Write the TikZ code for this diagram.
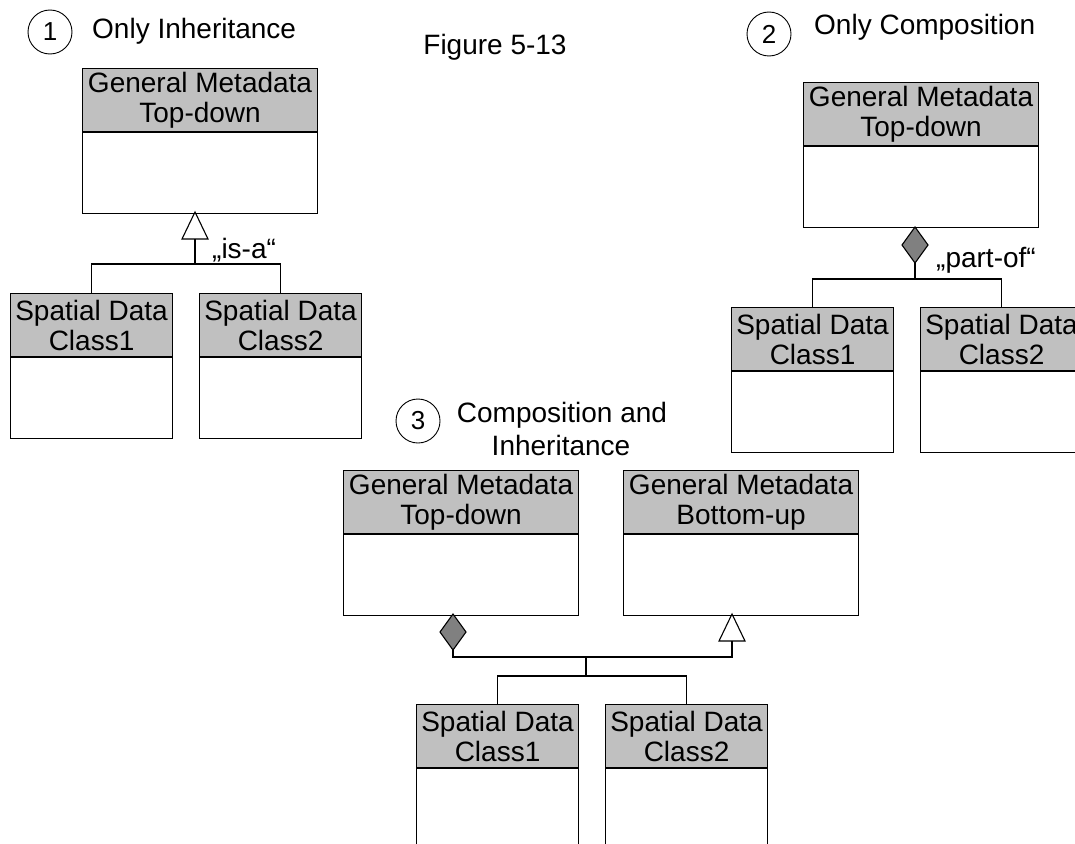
\documentclass[tikz,border=0pt]{standalone}
\usepackage{fontspec}
\setmainfont{Liberation Sans}
\usetikzlibrary{calc}
\definecolor{hdrgray}{HTML}{C0C0C0}
\definecolor{diagray}{HTML}{808080}
\begin{document}
\begin{tikzpicture}[x=1pt,y=-1pt,
  lbl/.style={font=\fontsize{28}{30}\selectfont, inner sep=0pt},
  hdr/.style={draw, fill=hdrgray, line width=1.1pt, minimum height=63pt, inner sep=0pt, align=center, anchor=north west, font=\fontsize{28}{30}\selectfont},
  bdy/.style={draw, fill=white, line width=1.1pt, minimum height=81pt, inner sep=0pt, anchor=north},
  numc/.style={draw, circle, line width=0.9pt, minimum size=44pt, inner sep=0pt, font=\fontsize{26}{26}\selectfont},
  conn/.style={line width=1.1pt},
  gen/.style={conn, fill=white, line join=miter},
  comp/.style={conn, fill=diagray, line join=miter},
]
\useasboundingbox (0,0) rectangle (1075,843);
\clip (0,0) rectangle (1075,843);

% ---------- Section 1 ----------
\node[numc] (n1) at (50,32) {1};
\node[lbl, anchor=base west] (title1) at (92,38) {Only Inheritance};
\node[lbl, anchor=base] (fig) at (495,55) {Figure 5-13};

\node[hdr, minimum width=235pt] (a1h) at (82,68) {General Metadata\\Top-down};
\node[bdy, minimum width=235pt] (a1) at (a1h.south) {};
\node[hdr, minimum width=162pt] (b1h) at (10,293) {Spatial Data\\Class1};
\node[bdy, minimum width=162pt] (b1) at (b1h.south) {};
\node[hdr, minimum width=162pt] (c1h) at (199,293) {Spatial Data\\Class2};
\node[bdy, minimum width=162pt] (c1) at (c1h.south) {};

\coordinate (tri1) at (195,212);
\coordinate (j1) at (195,264);
\draw[gen] (tri1) -- ++(-13,27) -- ++(26,0) -- cycle;
\draw[conn] ($(tri1)+(0,27)$) -- (j1);
\draw[conn] (b1h.north) |- (j1) -| (c1h.north);
\node[lbl, anchor=base west] (isa) at (212,258) {„is-a“};

% ---------- Section 2 ----------
\node[numc] (n2) at (769,34) {2};
\node[lbl, anchor=base west] (title2) at (814,35) {Only Composition};

\node[hdr, minimum width=235pt] (a2h) at (803,82) {General Metadata\\Top-down};
\node[bdy, minimum width=235pt] (a2) at (a2h.south) {};
\node[hdr, minimum width=162pt] (b2h) at (731,307) {Spatial Data\\Class1};
\node[bdy, minimum width=162pt] (b2) at (b2h.south) {};
\node[hdr, minimum width=162pt] (c2h) at (920,307) {Spatial Data\\Class2};
\node[bdy, minimum width=162pt] (c2) at (c2h.south) {};

\coordinate (dia2) at (915,227);
\coordinate (j2) at (915,279);
\draw[comp] (dia2) -- ++(-13,18) -- ++(13,18) -- ++(13,-18) -- cycle;
\draw[conn] ($(dia2)+(0,36)$) -- (j2);
\draw[conn] (b2h.north) |- (j2) -| (c2h.north);
\node[lbl, anchor=base west] (partof) at (936,267) {„part-of“};

% ---------- Section 3 ----------
\node[numc] (n3) at (418,421) {3};
\node[lbl, anchor=base] (title3a) at (562,422) {Composition and};
\node[lbl, anchor=base] (title3b) at (561,455) {Inheritance};

\node[hdr, minimum width=235pt] (a3h) at (343,470) {General Metadata\\Top-down};
\node[bdy, minimum width=235pt] (a3) at (a3h.south) {};
\node[hdr, minimum width=235pt] (d3h) at (623,470) {General Metadata\\Bottom-up};
\node[bdy, minimum width=235pt] (d3) at (d3h.south) {};
\node[hdr, minimum width=162pt] (b3h) at (416,704) {Spatial Data\\Class1};
\node[bdy, minimum width=162pt] (b3) at (b3h.south) {};
\node[hdr, minimum width=162pt] (c3h) at (605,704) {Spatial Data\\Class2};
\node[bdy, minimum width=162pt] (c3) at (c3h.south) {};

\coordinate (dia3) at (453,614);
\coordinate (tri3) at (732,614);
\coordinate (j3) at (586,657);
\coordinate (k3) at (586,676);
\draw[comp] (dia3) -- ++(-13,18) -- ++(13,18) -- ++(13,-18) -- cycle;
\draw[gen] (tri3) -- ++(-13,27) -- ++(26,0) -- cycle;
\draw[conn] ($(dia3)+(0,36)$) |- (j3) -| ($(tri3)+(0,27)$);
\draw[conn] (j3) -- (k3);
\draw[conn] (b3h.north) |- (k3) -| (c3h.north);
\end{tikzpicture}
\end{document}
